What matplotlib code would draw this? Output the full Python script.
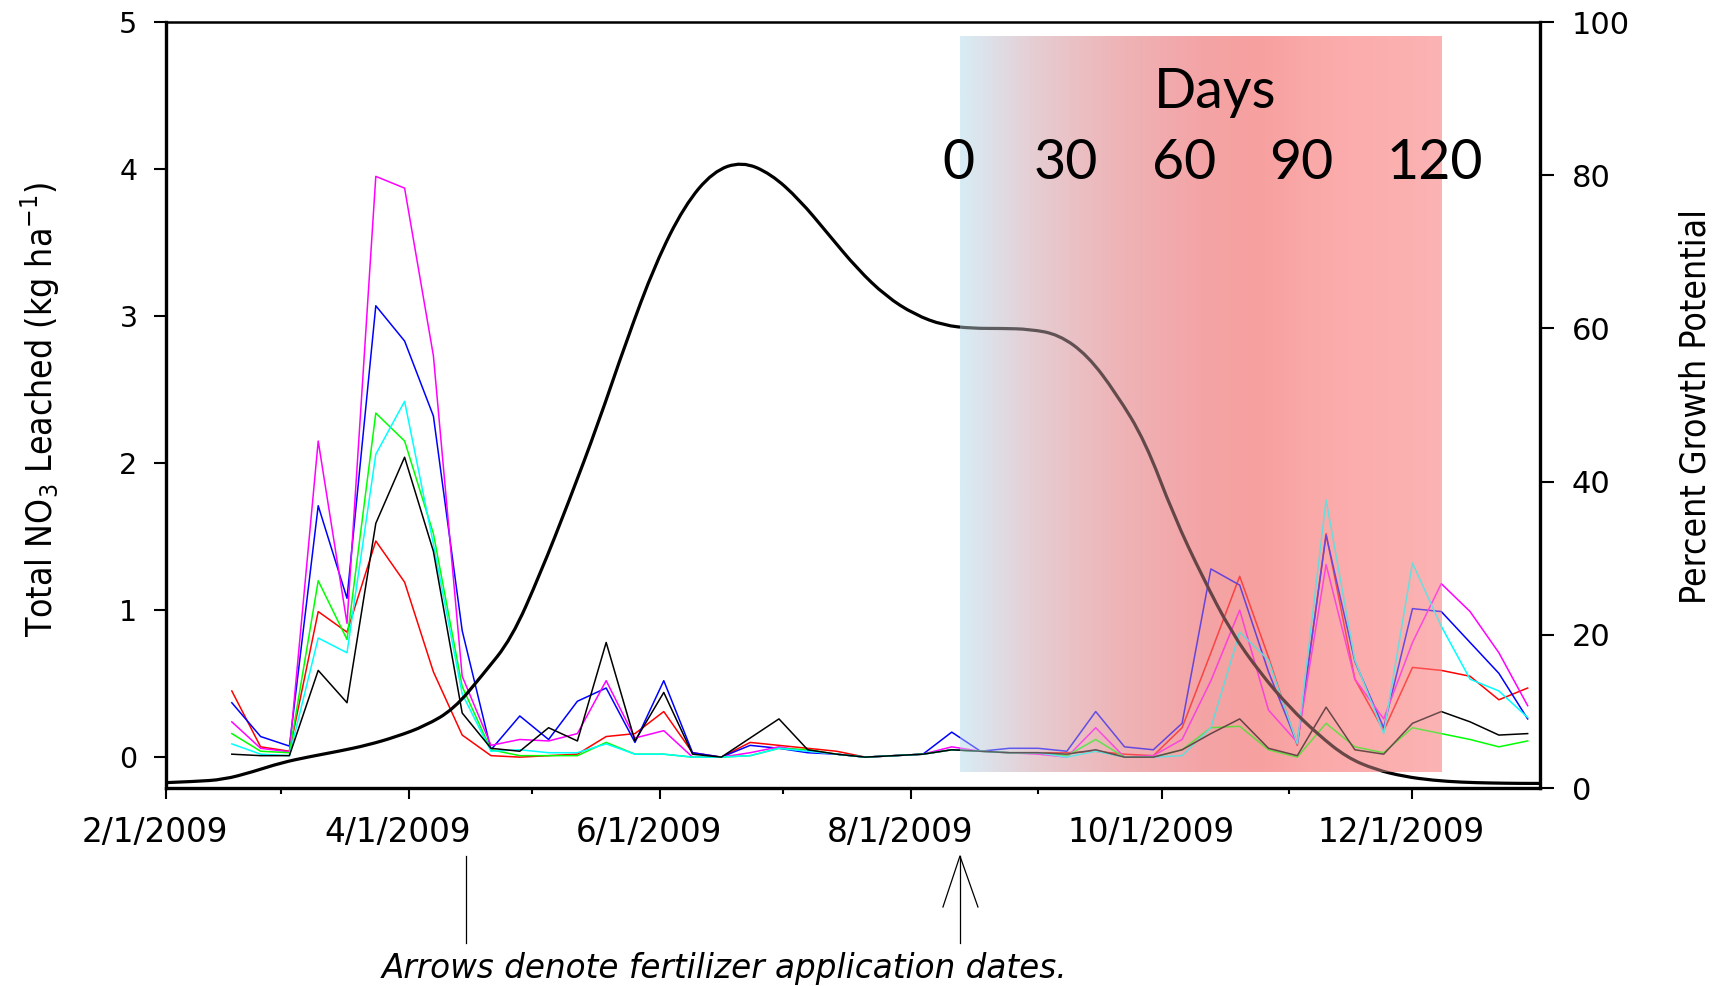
import numpy as np
import pandas as pd
import matplotlib
matplotlib.use("Agg")
import matplotlib.pyplot as plt
import matplotlib.dates as mdates
from matplotlib.colors import LinearSegmentedColormap
from matplotlib.transforms import ScaledTranslation
from matplotlib.lines import Line2D
from matplotlib.path import Path
from matplotlib.patches import PathPatch

W, H, DPI = 1729, 986, 100

# ---------------- data ----------------
sample_dates = pd.date_range("2009-02-17", periods=46, freq="7D")

red = [0.45, 0.07, 0.04, 0.99, 0.85, 1.47, 1.19, 0.58, 0.15, 0.01, 0.00, 0.01, 0.02, 0.14, 0.16, 0.31,
       0.03, 0.00, 0.10, 0.08, 0.06, 0.04, 0.00, 0.01, 0.02, 0.05, 0.04, 0.03, 0.03, 0.03, 0.04, 0.02,
       0.01, 0.20, 0.71, 1.23, 0.68, 0.08, 1.52, 0.53, 0.18, 0.61, 0.59, 0.55, 0.39, 0.47]
blue = [0.37, 0.14, 0.075, 1.71, 1.08, 3.07, 2.83, 2.32, 0.86, 0.05, 0.28, 0.12, 0.38, 0.47, 0.10, 0.52,
        0.03, 0.00, 0.08, 0.06, 0.03, 0.02, 0.00, 0.01, 0.02, 0.17, 0.04, 0.06, 0.06, 0.04, 0.31, 0.07,
        0.05, 0.23, 1.28, 1.17, 0.58, 0.09, 1.51, 0.65, 0.20, 1.01, 0.99, 0.78, 0.57, 0.26]
magenta = [0.24, 0.06, 0.036, 2.15, 0.91, 3.95, 3.87, 2.73, 0.55, 0.08, 0.12, 0.11, 0.16, 0.52, 0.13, 0.18,
           0.00, 0.00, 0.03, 0.07, 0.04, 0.02, 0.00, 0.01, 0.02, 0.07, 0.04, 0.03, 0.02, 0.00, 0.20, 0.00,
           0.01, 0.12, 0.52, 1.00, 0.32, 0.10, 1.31, 0.53, 0.26, 0.78, 1.18, 0.99, 0.71, 0.35]
green = [0.16, 0.04, 0.03, 1.20, 0.80, 2.34, 2.15, 1.52, 0.48, 0.05, 0.01, 0.01, 0.01, 0.10, 0.02, 0.02,
         0.00, 0.00, 0.01, 0.06, 0.05, 0.02, 0.00, 0.01, 0.02, 0.05, 0.04, 0.03, 0.03, 0.01, 0.12, 0.00,
         0.00, 0.05, 0.20, 0.21, 0.05, 0.00, 0.23, 0.07, 0.03, 0.20, 0.16, 0.12, 0.07, 0.11]
cyan = [0.09, 0.02, 0.01, 0.81, 0.71, 2.06, 2.42, 1.45, 0.43, 0.04, 0.05, 0.03, 0.03, 0.09, 0.02, 0.02,
        0.00, 0.00, 0.01, 0.06, 0.04, 0.02, 0.00, 0.01, 0.02, 0.05, 0.04, 0.03, 0.03, 0.00, 0.04, 0.00,
        0.00, 0.01, 0.20, 0.85, 0.66, 0.09, 1.75, 0.66, 0.16, 1.32, 0.89, 0.53, 0.45, 0.27]
black = [0.02, 0.01, 0.01, 0.59, 0.37, 1.59, 2.04, 1.40, 0.30, 0.06, 0.04, 0.20, 0.11, 0.78, 0.11, 0.44,
         0.02, 0.00, 0.13, 0.26, 0.05, 0.02, 0.00, 0.01, 0.02, 0.05, 0.04, 0.03, 0.03, 0.02, 0.05, 0.00,
         0.00, 0.05, 0.16, 0.26, 0.06, 0.01, 0.34, 0.05, 0.02, 0.23, 0.31, 0.24, 0.15, 0.16]

series = [(red, "#ff0000"), (blue, "#0000ff"), (magenta, "#ff00ff"),
          (green, "#00ff00"), (cyan, "#00ffff"), (black, "#000000")]

growth_dates = list(pd.date_range("2009-02-01", periods=48, freq="7D")) + [pd.Timestamp("2010-01-01")]
growth = [0.7, 0.85, 1.1, 2.1, 3.3, 4.1, 4.8, 5.6, 6.7, 8.1, 10.3, 14.8, 19.5, 28.0, 37.5, 47.5,
          58.5, 68.5, 76.0, 80.5, 81.8, 80.2, 76.8, 72.3, 67.8, 64.2, 61.8, 60.4, 60.0, 60.0, 59.9, 59.2,
          56.5, 51.5, 45.3, 35.5, 27.5, 20.3, 15.0, 10.6, 7.0, 4.0, 2.4, 1.5, 1.0, 0.75, 0.65, 0.6, 0.6]

x_major = ["2009-02-01", "2009-04-01", "2009-06-01", "2009-08-01", "2009-10-01", "2009-12-01"]
x_major_labels = ["2/1/2009", "4/1/2009", "6/1/2009", "8/1/2009", "10/1/2009", "12/1/2009"]
x_minor = ["2009-03-01", "2009-05-01", "2009-07-01", "2009-09-01", "2009-11-01"]
left_ticks = [0, 1, 2, 3, 4, 5]
right_ticks = [0, 20, 40, 60, 80, 100]
fert_dates = ["2009-04-15", "2009-08-13"]
days_labels = ["0", "30", "60", "90", "120"]
window_start, window_end = "2009-08-13", "2009-12-08"

# ---------------- figure ----------------
fig = plt.figure(figsize=(W / DPI, H / DPI), dpi=DPI)
fig.patch.set_facecolor("white")
ax = fig.add_axes([166 / W, 1 - 788 / H, (1540 - 166) / W, (788 - 22) / H])
ax2 = ax.twinx()

YL = (-0.21, 5.0)
YR = (0, 100)

for vals, col in series:
    ax.plot(sample_dates, vals, color=col, lw=1.1, zorder=2)

# growth potential curve drawn as a smooth path through the read values
gx = mdates.date2num(growth_dates)
gy = np.asarray(growth, dtype=float)
verts = [(gx[0], gy[0])]
codes = [Path.MOVETO]
for i in range(1, len(gx) - 1):
    verts += [(gx[i], gy[i]), ((gx[i] + gx[i + 1]) / 2, (gy[i] + gy[i + 1]) / 2)]
    codes += [Path.CURVE3, Path.CURVE3]
verts.append((gx[-1], gy[-1]))
codes.append(Path.LINETO)
ax2.add_patch(PathPatch(Path(verts, codes), fill=False, lw=2.3, ec="black", zorder=2))

# gradient window
grad_cmap = LinearSegmentedColormap.from_list(
    "win",
    [(0.0, "#d8ecf5"), (0.05, "#dde2ea"), (0.16, "#e6ccd1"), (0.32, "#eeb5b8"),
     (0.5, "#f4a4a6"), (0.62, "#f7a0a0"), (0.75, "#fbaaaa"), (1.0, "#fcb3b3")])
g = np.linspace(0, 1, 512)[None, :]
xs, xe = mdates.date2num(pd.Timestamp(window_start)), mdates.date2num(pd.Timestamp(window_end))
yb, yt = -0.10, 4.90
ax.imshow(g, cmap=grad_cmap, extent=[xs, xe, yb, yt], aspect="auto", zorder=0.5,
          interpolation="bilinear")
rb = (yb - YL[0]) / (YL[1] - YL[0]) * 100
rt = (yt - YL[0]) / (YL[1] - YL[0]) * 100
ax2.imshow(g, cmap=grad_cmap, extent=[xs, xe, rb, rt], aspect="auto", zorder=3,
           interpolation="bilinear", alpha=0.42)

ax.set_xlim(mdates.date2num(pd.Timestamp("2009-02-01")), mdates.date2num(pd.Timestamp("2010-01-01")))
ax2.set_xlim(ax.get_xlim())
ax.set_ylim(*YL)
ax2.set_ylim(*YR)

# ticks
ax.set_xticks([mdates.date2num(pd.Timestamp(d)) for d in x_major])
ax.set_xticklabels(x_major_labels)
ax.set_xticks([mdates.date2num(pd.Timestamp(d)) for d in x_minor], minor=True)
ax.tick_params(axis="x", which="major", direction="out", length=8, width=1.5,
               labelsize=23.5, pad=12)
ax.tick_params(axis="x", which="minor", direction="out", length=4.3, width=1.5)
for lab in ax.get_xticklabels():
    lab.set_fontfamily("DejaVu Sans")
    lab.set_transform(lab.get_transform() + ScaledTranslation(-11 / DPI, 0, fig.dpi_scale_trans))

ax.set_yticks(left_ticks)
ax.tick_params(axis="y", direction="out", length=8.6, width=1.5, labelsize=20.5, pad=12)
ax2.set_yticks(right_ticks)
ax2.tick_params(axis="y", direction="out", length=10, width=1.5, labelsize=22, pad=13)
for lab in ax.get_yticklabels() + ax2.get_yticklabels():
    lab.set_fontfamily("DejaVu Sans")

# spines
ax.spines["right"].set_visible(False)
ax.spines["top"].set_linewidth(1.8)
ax.spines["left"].set_linewidth(2.4)
ax.spines["bottom"].set_linewidth(2.4)
for s in ["left", "top", "bottom"]:
    ax2.spines[s].set_visible(False)
ax2.spines["right"].set_linewidth(2.4)
ax2.patch.set_visible(False)

# axis labels
lab_font = dict(family="DejaVu Sans", fontstretch="condensed", fontsize=25.5)
fig.text(40 / W, 1 - 409 / H, r"Total NO$\mathregular{_3}$ Leached (kg ha$\mathregular{^{-1}}$)",
         rotation=90, ha="center", va="center", **lab_font)
fig.text(1695 / W, 1 - 406 / H, "Percent Growth Potential", rotation=90,
         ha="center", va="center", **lab_font)

# Days annotation
fig.text(1215 / W, 1 - 108 / H, "Days", ha="center", va="baseline", fontsize=40, family="Lato")
for lab, px in zip(days_labels, [958, 1066, 1184, 1301, 1435]):
    fig.text(px / W, 1 - 179 / H, lab, ha="center", va="baseline", fontsize=40, family="Lato")

# fertilizer arrows
fig.canvas.draw()
for i, d in enumerate(fert_dates):
    px = ax.transData.transform((mdates.date2num(pd.Timestamp(d)), 0))[0]
    fx = px / W
    fig.add_artist(Line2D([fx, fx], [1 - 856 / H, 1 - 943 / H], color="black", lw=0.9,
                          transform=fig.transFigure))
    if i == 1:
        fig.add_artist(Line2D([(px - 17) / W, fx, (px + 18) / W],
                              [1 - 907 / H, 1 - 856 / H, 1 - 907 / H],
                              color="black", lw=0.9, transform=fig.transFigure))

fig.text(725 / W, 1 - 978 / H, "Arrows denote fertilizer application dates.",
         ha="center", va="baseline", fontsize=23.5, style="italic", family="DejaVu Sans")

fig.savefig("out.png", dpi=DPI)
